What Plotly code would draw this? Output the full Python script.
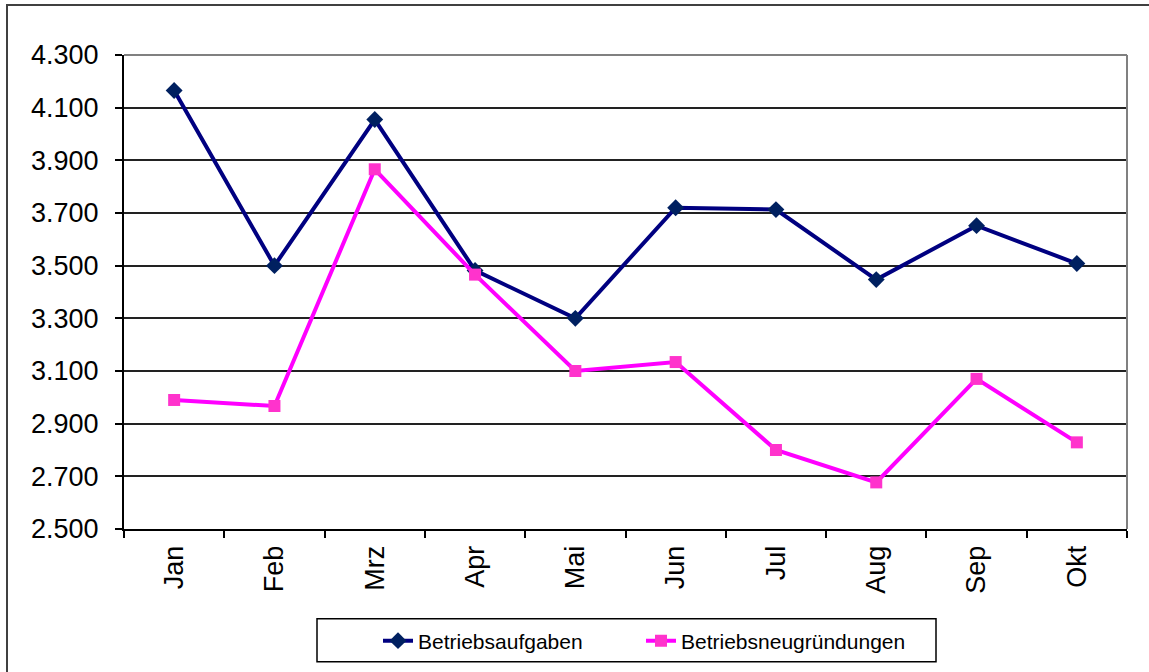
import plotly.graph_objects as go

months = ["Jan", "Feb", "Mrz", "Apr", "Mai", "Jun", "Jul", "Aug", "Sep", "Okt"]
betriebsaufgaben = [4165, 3500, 4055, 3482, 3300, 3720, 3713, 3447, 3652, 3508]
betriebsneugruendungen = [2990, 2967, 3866, 3466, 3100, 3134, 2800, 2677, 3070, 2829]
y_ticks = [2500, 2700, 2900, 3100, 3300, 3500, 3700, 3900, 4100, 4300]

# the page body margin is removed (post_script), so figure px == screen px
W, H = 1149, 672
L, R, T, B = 124, 1127, 55, 530


def px(x):
    return (x - L) / (R - L)


def py(y):
    return (B - y) / (B - T)


FONT = "Liberation Sans, Arial, sans-serif"

fig = go.Figure()
fig.add_trace(go.Scatter(
    x=months, y=betriebsaufgaben, name="Betriebsaufgaben",
    mode="lines+markers",
    line=dict(color="#000080", width=4),
    marker=dict(symbol="diamond", size=13, color="#002060", line=dict(width=0)),
    legend="legend",
))
fig.add_trace(go.Scatter(
    x=months, y=betriebsneugruendungen, name="Betriebsneugründungen",
    mode="lines+markers",
    line=dict(color="#FF00FF", width=4),
    marker=dict(symbol="square", size=12, color="#FF33CC", line=dict(width=0)),
    legend="legend2",
))

leg_common = dict(
    orientation="h",
    xanchor="left", yanchor="middle",
    borderwidth=0,
    bgcolor="rgba(0,0,0,0)",
    font=dict(size=21, family=FONT, color="black"),
)

fig.update_layout(
    width=W, height=H,
    margin=dict(l=L, r=W - R, t=T, b=H - B, pad=0),
    paper_bgcolor="white", plot_bgcolor="white",
    separators=",.",
    font=dict(family=FONT, color="black"),
    showlegend=True,
    hovermode=False,
    legend=dict(x=px(378), y=py(641), **leg_common),
    legend2=dict(x=px(641), y=py(641), **leg_common),
    xaxis=dict(
        type="category",
        range=[-0.5, len(months) - 0.5],
        showgrid=False,
        showline=True, linecolor="black", linewidth=2,
        ticks="outside", ticklen=7, tickwidth=2, tickcolor="black",
        tickson="boundaries",
        tickangle=-90,
        tickfont=dict(size=27, family=FONT),
        ticklabelstandoff=4,
        zeroline=False,
    ),
    yaxis=dict(
        range=[2500, 4300],
        tickvals=y_ticks,
        tickformat=",d",
        showgrid=True, gridcolor="#222222", gridwidth=2,
        showline=True, linecolor="black", linewidth=2,
        ticks="outside", ticklen=7, tickwidth=2, tickcolor="black",
        tickfont=dict(size=27, family=FONT),
        ticklabelstandoff=11,
        zeroline=False,
    ),
    shapes=[
        # plot area frame (top and right in gray)
        dict(type="line", xref="paper", yref="paper", x0=0, x1=1, y0=1, y1=1,
             line=dict(color="#808080", width=2), layer="above"),
        dict(type="line", xref="paper", yref="paper", x0=1, x1=1, y0=0, y1=1,
             line=dict(color="#808080", width=2), layer="above"),
        # outer chart frame
        dict(type="rect", xref="paper", yref="paper",
             x0=px(7), x1=px(1200), y0=py(720), y1=py(5),
             line=dict(color="#404040", width=2), fillcolor="rgba(0,0,0,0)", layer="below"),
        # legend frame
        dict(type="rect", xref="paper", yref="paper",
             x0=px(317), x1=px(936), y0=py(663), y1=py(620),
             line=dict(color="black", width=1.5), fillcolor="rgba(0,0,0,0)", layer="above"),
    ],
)

fig.write_html(
    "out.html",
    config={"displayModeBar": False, "staticPlot": True},
    post_script="document.body.style.margin='0';document.body.style.overflow='hidden';",
)
